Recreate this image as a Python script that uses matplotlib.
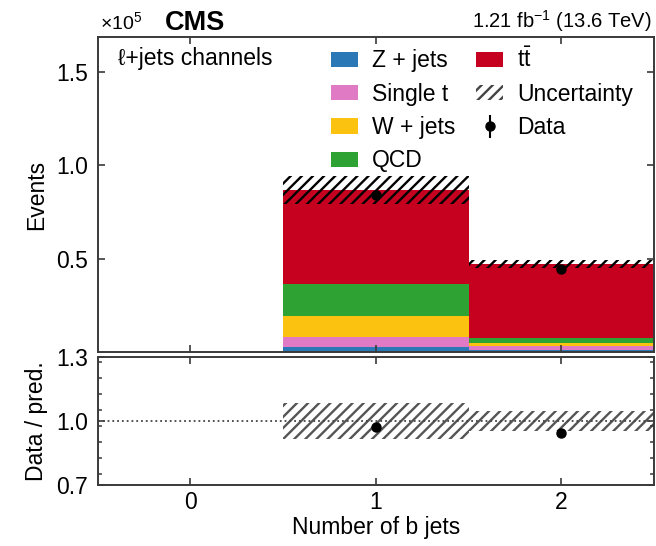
import matplotlib
matplotlib.use('Agg')
import matplotlib.pyplot as plt
import numpy as np
from matplotlib.patches import Patch
from matplotlib.ticker import MultipleLocator

plt.rcParams['font.family'] = ['Liberation Sans', 'DejaVu Sans']
plt.rcParams['mathtext.fontset'] = 'custom'
plt.rcParams['mathtext.rm'] = 'Liberation Sans'
plt.rcParams['mathtext.it'] = 'Liberation Sans:italic'
plt.rcParams['hatch.linewidth'] = 1.7

# number of b jets
nbjets = [0, 1, 2]
# events per bin
zjets = [0, 2700, 1100]
single_t = [0, 5300, 2100]
wjets = [0, 11300, 1600]
qcd = [0, 17100, 2700]
ttbar = [0, 50200, 39500]
unc = [0, 7500, 2100]
data = [0, 84000, 44400]

labels = ['Z + jets', 'Single t', 'W + jets', 'QCD', r'$\mathrm{t\bar{t}}$']
colors = ['#2a78b6', '#e07ac4', '#fbc30f', '#2ea232', '#c6001f']
stacks = [zjets, single_t, wjets, qcd, ttbar]

scale = 1e5
x = np.array(nbjets)
fs = 16.5
spine_col = '#3a3a3a'

fig = plt.figure(figsize=(6.56, 5.46), dpi=100)
ax = fig.add_axes([0.149, 0.3553, 0.848, 0.5769])
rax = fig.add_axes([0.149, 0.1117, 0.848, 0.2345])

bottom = np.zeros(len(x))
for vals, col in zip(stacks, colors):
    v = np.array(vals) / scale
    ax.bar(x, v, width=1.0, bottom=bottom, color=col, linewidth=0)
    bottom = bottom + v

total = bottom
u = np.array(unc) / scale
ax.bar(x, 2 * u, width=1.0, bottom=total - u, fill=False, hatch='///',
       edgecolor='black', linewidth=0)

mask = total > 0
d = np.array(data) / scale
derr = np.sqrt(np.array(data)) / scale
ax.errorbar(x[mask], d[mask], yerr=derr[mask], fmt='o', color='black',
            markersize=6.5, elinewidth=1.5, capsize=0)

# ratio panel
rax.axhline(1.0, color='#444444', linestyle=':', linewidth=1.3)
rel = np.zeros(len(x))
rel[mask] = u[mask] / total[mask]
rax.bar(x[mask], 2 * rel[mask], width=1.0, bottom=1 - rel[mask], fill=False,
        hatch='///', edgecolor='#555555', linewidth=0)
ratio = d[mask] / total[mask]
rerr = derr[mask] / total[mask]
rax.errorbar(x[mask], ratio, yerr=rerr, fmt='o', color='black',
             markersize=6.5, elinewidth=1.5, capsize=0)

for a in (ax, rax):
    a.set_xlim(-0.5, 2.5)
    a.set_xticks(nbjets)
    for s in a.spines.values():
        s.set_color(spine_col)
        s.set_linewidth(1.4)
    a.tick_params(direction='in', top=True, right=True, labelsize=fs,
                  length=5, width=1.2, color=spine_col, pad=7)
    a.tick_params(which='minor', direction='in', right=True, length=3,
                  width=1.1, color=spine_col)
    a.tick_params(axis='x', pad=4)

ax.set_ylim(0, 1.685)
ax.set_yticks([0.5, 1.0, 1.5])
ax.set_yticklabels(['0.5', '1.0', '1.5'])
ax.tick_params(labelbottom=False)
ax.set_ylabel('Events', fontsize=fs, labelpad=6)

rax.set_ylim(0.7, 1.3)
rax.set_yticks([0.7, 1.0, 1.3])
rax.set_yticklabels(['0.7', '1.0', '1.3'])
rax.yaxis.set_minor_locator(MultipleLocator(0.075))
rax.set_ylabel('Data / pred.', fontsize=fs, labelpad=6)
rax.set_xlabel('Number of b jets', fontsize=fs, labelpad=2)
rax.set_xticklabels([str(n) for n in nbjets])

fig.text(100 / 656, 1 - 29 / 546, r'$\times10^{5}$', fontsize=14, va='baseline')
fig.text(165 / 656, 1 - 30 / 546, 'CMS', fontsize=19.5, fontweight='bold', va='baseline')
fig.text(652 / 656, 1 - 28 / 546, r'1.21 fb$^{-1}$ (13.6 TeV)', fontsize=14.5,
         ha='right', va='baseline')
ax.text(118 / 656, 1 - 65 / 546, '\u2113+jets channels', fontsize=fs,
        transform=fig.transFigure, va='baseline')

handles = [Patch(facecolor=c, linewidth=0) for c in colors]
handles.append(Patch(facecolor='none', edgecolor='#444444', hatch='///', linewidth=0))
dh = ax.errorbar([], [], yerr=[], fmt='o', color='black', markersize=6.5,
                 elinewidth=1.5, capsize=0)
handles.append(dh)
leg = ax.legend(handles, labels + ['Uncertainty', 'Data'], ncol=2,
                loc='upper left', bbox_to_anchor=(0.42, 0.965), frameon=False,
                fontsize=fs, handlelength=1.18, handleheight=0.65,
                handletextpad=0.6, columnspacing=0.9, labelspacing=0.45,
                borderpad=0.0, borderaxespad=0.0)

fig.savefig('out.png', dpi=100)
